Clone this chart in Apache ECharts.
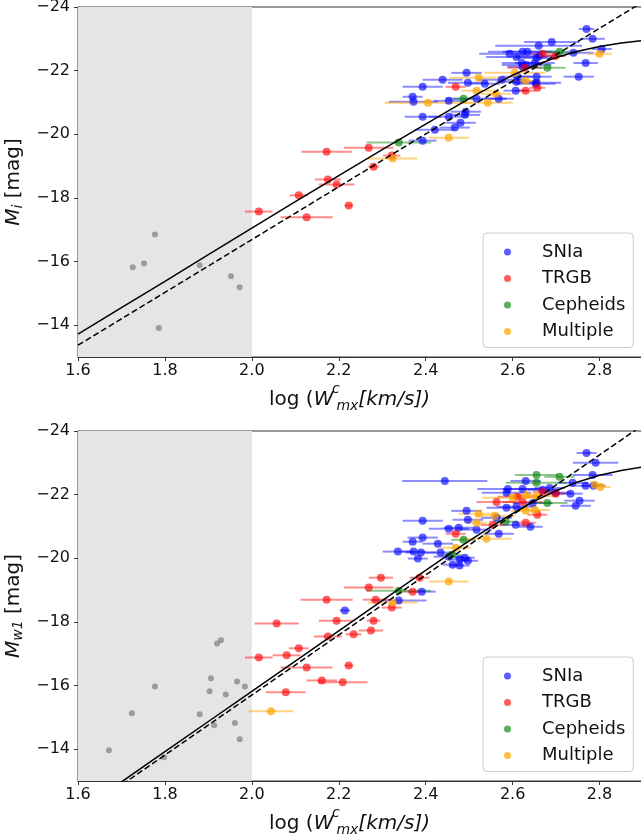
<!DOCTYPE html>
<html><head><meta charset="utf-8">
<script src="https://cdn.jsdelivr.net/npm/echarts@6/dist/echarts.min.js"></script>
<style>html,body{margin:0;padding:0;background:#fff}#c{width:641px;height:837px}</style>
</head><body><div id="c"></div><script>
// ---- axis / layout values ----
const xTicks = [1.6, 1.8, 2.0, 2.2, 2.4, 2.6, 2.8];
const yTicks = [-24, -22, -20, -18, -16, -14];
const shadeRange = [1.6, 2.0];
const legendNames = ['SNIa', 'TRGB', 'Cepheids', 'Multiple'];

// ---- TOP panel (M_i) : [logW, M, xerr] ----
const topSNIa = [
 [2.770,-23.31,0.018],[2.784,-23.00,0.028],[2.690,-22.90,0.064],[2.660,-22.78,0.10],[2.805,-22.68,0.023],
 [2.593,-22.53,0.07],[2.623,-22.59,0.08],[2.634,-22.59,0.057],[2.662,-22.46,0.057],[2.740,-22.56,0.046],
 [2.609,-22.43,0.07],[2.655,-22.40,0.046],[2.768,-22.24,0.028],[2.621,-22.24,0.046],[2.632,-22.18,0.057],
 [2.651,-22.24,0.046],[2.623,-22.12,0.035],[2.752,-21.81,0.035],[2.494,-21.93,0.035],[2.439,-21.71,0.046],
 [2.575,-21.71,0.057],[2.609,-21.65,0.046],[2.655,-21.62,0.057],[2.536,-21.59,0.035],[2.497,-21.62,0.046],
 [2.393,-21.49,0.046],[2.607,-21.37,0.028],[2.653,-21.59,0.046],[2.655,-21.81,0.035],[2.611,-21.81,0.035],
 [2.370,-21.18,0.023],[2.372,-21.02,0.057],[2.453,-21.05,0.035],[2.517,-21.12,0.07],[2.568,-21.12,0.035],
 [2.393,-20.55,0.041],[2.453,-20.55,0.046],[2.490,-20.61,0.035],[2.492,-20.71,0.035],[2.480,-20.36,0.035],
 [2.467,-20.21,0.035],[2.421,-20.14,0.046],[2.393,-19.80,0.032]
];
const topTRGB = [
 [2.669,-22.53,0.028],[2.699,-22.46,0.023],[2.628,-22.09,0.04],[2.469,-21.49,0.023],[2.657,-21.46,0.018],
 [2.630,-21.37,0.023],[2.172,-19.45,0.058],[2.269,-19.58,0.057],[2.322,-19.33,0.02],[2.280,-18.98,0.012],
 [2.175,-18.58,0.03],[2.195,-18.42,0.041],[2.108,-18.08,0.021],[2.016,-17.57,0.032],[2.223,-17.76,0.01],
 [2.126,-17.39,0.06]
];
const topCepheids = [
 [2.708,-22.59,0.046],[2.680,-22.09,0.042],[2.487,-21.12,0.023],[2.338,-19.74,0.074]
];
const topMultiple = [
 [2.800,-22.53,0.028],[2.605,-21.93,0.07],[2.522,-21.78,0.067],[2.630,-21.68,0.035],[2.517,-21.37,0.035],
 [2.561,-21.27,0.035],[2.405,-20.99,0.10],[2.543,-20.99,0.057],[2.453,-19.89,0.046],[2.324,-19.24,0.057]
];
const topExcluded = [
 [1.726,-15.82],[1.752,-15.94],[1.777,-16.85],[1.880,-15.88],[1.952,-15.54],[1.972,-15.19],[1.786,-13.91]
];
const topFitSolid = [
 [1.6,-13.72],[1.7,-14.55],[1.8,-15.38],[1.9,-16.22],[2.0,-17.05],[2.1,-17.88],[2.2,-18.70],[2.3,-19.52],
 [2.4,-20.32],[2.45,-20.72],[2.5,-21.12],[2.55,-21.50],[2.6,-21.86],[2.65,-22.16],[2.7,-22.41],
 [2.75,-22.61],[2.8,-22.76],[2.85,-22.87],[2.9,-22.95]
];
const topFitDashed = [[1.6,-13.37],[2.9,-24.16]];

// ---- BOTTOM panel (M_w1) ----
const botSNIa = [
 [2.770,-23.31,0.023],[2.791,-23.00,0.052],[2.444,-22.43,0.098],[2.630,-22.43,0.035],[2.738,-22.37,0.035],
 [2.784,-22.62,0.046],[2.786,-22.28,0.028],[2.768,-22.28,0.035],[2.589,-22.18,0.07],[2.623,-22.18,0.046],
 [2.586,-22.06,0.057],[2.669,-22.15,0.035],[2.685,-22.21,0.035],[2.733,-22.03,0.028],[2.699,-22.06,0.035],
 [2.754,-21.81,0.035],[2.745,-21.65,0.035],[2.646,-21.74,0.046],[2.609,-21.62,0.046],[2.586,-21.59,0.046],
 [2.494,-21.49,0.035],[2.393,-21.18,0.046],[2.497,-21.21,0.035],[2.476,-20.96,0.035],[2.453,-20.93,0.046],
 [2.517,-20.90,0.035],[2.563,-21.27,0.035],[2.607,-21.05,0.035],[2.641,-20.99,0.028],[2.568,-20.77,0.035],
 [2.393,-20.65,0.035],[2.370,-20.52,0.023],[2.428,-20.46,0.035],[2.336,-20.21,0.035],[2.372,-20.21,0.028],
 [2.389,-20.18,0.035],[2.434,-20.18,0.035],[2.382,-19.99,0.023],[2.453,-20.05,0.035],[2.478,-19.96,0.023],
 [2.490,-20.02,0.023],[2.497,-19.92,0.023],[2.462,-19.80,0.023],[2.478,-19.77,0.023],[2.391,-18.95,0.032],
 [2.338,-18.67,0.064],[2.214,-18.36,0.012]
];
const botTRGB = [
 [2.669,-22.09,0.023],[2.699,-22.03,0.023],[2.611,-21.93,0.046],[2.623,-21.77,0.046],[2.563,-21.77,0.046],
 [2.657,-21.37,0.023],[2.554,-21.05,0.028],[2.630,-21.12,0.023],[2.469,-20.77,0.023],[2.297,-19.39,0.028],
 [2.269,-19.08,0.057],[2.172,-18.70,0.06],[2.285,-18.70,0.03],[2.322,-18.45,0.023],[2.386,-19.39,0.023],
 [2.370,-18.95,0.023],[2.195,-18.04,0.041],[2.280,-18.04,0.016],[2.057,-17.95,0.051],[2.274,-17.73,0.028],
 [2.234,-17.61,0.018],[2.175,-17.54,0.032],[2.108,-17.17,0.023],[2.080,-16.95,0.032],[2.016,-16.88,0.032],
 [2.223,-16.63,0.01],[2.126,-16.57,0.06],[2.078,-15.79,0.046],[2.161,-16.16,0.035],[2.209,-16.10,0.057]
];
const botCepheids = [
 [2.655,-22.62,0.05],[2.708,-22.56,0.035],[2.655,-22.37,0.07],[2.680,-21.74,0.046],[2.584,-21.15,0.028],
 [2.487,-20.58,0.028],[2.460,-20.11,0.023],[2.338,-18.98,0.074]
];
const botMultiple = [
 [2.802,-22.24,0.023],[2.789,-22.31,0.023],[2.600,-21.90,0.07],[2.632,-21.99,0.046],[2.655,-21.96,0.046],
 [2.630,-21.49,0.035],[2.651,-21.52,0.035],[2.522,-21.40,0.046],[2.559,-21.34,0.046],[2.517,-21.12,0.023],
 [2.540,-20.61,0.057],[2.469,-20.33,0.035],[2.453,-19.27,0.046],[2.324,-18.61,0.057],[2.044,-15.19,0.051]
];
const botExcluded = [
 [1.671,-13.97],[1.724,-15.13],[1.777,-15.97],[1.798,-13.75],[1.880,-15.10],[1.903,-15.82],[1.906,-16.23],
 [1.913,-14.75],[1.920,-17.32],[1.929,-17.42],[1.940,-15.72],[1.961,-14.82],[1.966,-16.13],[1.984,-15.97],
 [1.972,-14.31]
];
const botFitSolid = [
 [1.6,-12.02],[1.7,-12.97],[1.8,-13.92],[1.9,-14.87],[2.0,-15.82],[2.1,-16.77],[2.2,-17.72],[2.3,-18.67],
 [2.4,-19.62],[2.45,-20.09],[2.5,-20.55],[2.55,-20.99],[2.6,-21.40],[2.65,-21.80],[2.7,-22.12],
 [2.75,-22.40],[2.8,-22.61],[2.85,-22.76],[2.9,-22.87]
];
const botFitDashed = [[1.6,-11.93],[2.9,-24.19]];

// ---- styling ----
const FONT = 'DejaVu Sans';
const colors = {
  SNIa: ['rgba(0,0,255,0.8)', 'rgba(0,0,255,0.45)'],
  TRGB: ['rgba(255,0,0,0.8)', 'rgba(255,0,0,0.45)'],
  Cepheids: ['rgba(0,128,0,0.8)', 'rgba(0,128,0,0.45)'],
  Multiple: ['rgba(255,165,0,0.9)', 'rgba(255,165,0,0.5)']
};
const minus = v => (v < 0 ? '\u2212' : '') + Math.abs(v);

function errSeries(data, color, gi) {
  return {
    type: 'custom', xAxisIndex: gi, yAxisIndex: gi, data: data, z: 2, silent: true, clip: true,
    encode: { x: 0, y: 1 },
    renderItem: function (p, api) {
      const x = api.value(0), y = api.value(1), e = api.value(2);
      const a = api.coord([x - e, y]), b = api.coord([x + e, y]);
      return { type: 'line', shape: { x1: a[0], y1: a[1], x2: b[0], y2: b[1] },
               style: { stroke: color, lineWidth: 2 } };
    }
  };
}
function ptSeries(name, data, color, size, gi) {
  return { type: 'scatter', name: name, xAxisIndex: gi, yAxisIndex: gi,
           data: data.map(d => [d[0], d[1]]), symbolSize: size, itemStyle: { color: color },
           z: 3, silent: true };
}
function lineSeries(data, dashed, gi) {
  return { type: 'line', xAxisIndex: gi, yAxisIndex: gi, data: data, showSymbol: false, symbol: 'none',
           smooth: false, clip: true, z: 5, silent: true,
           lineStyle: { color: '#000', width: 1.5, type: dashed ? [6, 3] : 'solid' } };
}
function panelSeries(gi, sets, excl, solid, dashed) {
  const s = [];
  s.push({ type: 'line', xAxisIndex: gi, yAxisIndex: gi, data: [[shadeRange[0], -24]], symbol: 'none',
           showSymbol: false, z: 0, silent: true, lineStyle: { width: 0 },
           markArea: { silent: true, itemStyle: { color: '#e5e5e5' },
             data: [[{ xAxis: shadeRange[0] }, { xAxis: shadeRange[1] }]] } });
  s.push(ptSeries('excluded', excl, 'rgba(128,128,128,0.9)', 6, gi));
  legendNames.forEach((n, i) => {
    s.push(errSeries(sets[i], colors[n][1], gi));
    s.push(ptSeries(n, sets[i], colors[n][0], 8, gi));
  });
  s.push(lineSeries(solid, false, gi));
  s.push(lineSeries(dashed, true, gi));
  return s;
}

const axisCommon = {
  axisLine: { show: true, onZero: false, lineStyle: { color: '#333', width: 1 } },
  axisTick: { show: true, inside: false, length: 4, lineStyle: { color: '#333' } },
  splitLine: { show: false }
};
const TS = 20, SS = 14;
function xAx(gi) {
  return Object.assign({}, axisCommon, {
    type: 'value', gridIndex: gi, min: 1.6, max: 2.9, interval: 0.2,
    axisTick: Object.assign({}, axisCommon.axisTick, { customValues: xTicks }),
    axisLabel: { customValues: xTicks, formatter: v => v.toFixed(1), fontFamily: FONT, fontSize: 16,
                 color: '#111', margin: 6 },
    name: '{n|log (}{w|W}{c|c}{s|mx}{i|[km/s])}', nameLocation: 'middle', nameGap: 25,
    nameTextStyle: { fontFamily: FONT, fontSize: TS, color: '#111', padding: [0, 22, 0, 0],
      rich: {
        n: { fontFamily: FONT, fontSize: TS, color: '#111' },
        w: { fontFamily: FONT, fontSize: TS, fontStyle: 'italic', color: '#111' },
        c: { fontFamily: FONT, fontSize: SS, fontStyle: 'italic', color: '#111', padding: [0, 0, 22, 2], width: 1 },
        s: { fontFamily: FONT, fontSize: SS, fontStyle: 'italic', color: '#111', padding: [12, 0, 0, 0] },
        i: { fontFamily: FONT, fontSize: TS, fontStyle: 'italic', color: '#111' }
      } }
  });
}
function yAx(gi, sub) {
  return Object.assign({}, axisCommon, {
    type: 'value', gridIndex: gi, min: -24, max: -13, interval: 2, inverse: true,
    axisTick: Object.assign({}, axisCommon.axisTick, { customValues: yTicks }),
    axisLabel: { customValues: yTicks, formatter: minus, fontFamily: FONT, fontSize: 16, color: '#111', margin: 8 },
    name: '{m|M}{s|' + sub + '}{n| [mag]}', nameLocation: 'middle', nameGap: 48, nameRotate: 90,
    nameTextStyle: { fontFamily: FONT, fontSize: TS, color: '#111',
      rich: {
        m: { fontFamily: FONT, fontSize: TS, fontStyle: 'italic', color: '#111' },
        s: { fontFamily: FONT, fontSize: SS, fontStyle: 'italic', color: '#111', padding: [10, 0, 0, 0] },
        n: { fontFamily: FONT, fontSize: TS, color: '#111' }
      } }
  });
}
function legendAt(top) {
  return { data: legendNames, orient: 'vertical', left: 483, top: top, icon: 'circle',
           itemWidth: 7, itemHeight: 7, itemGap: 6.5, padding: [9, 8, 6, 21],
           borderColor: '#cccccc', borderWidth: 1, borderRadius: 4, backgroundColor: 'rgba(255,255,255,0.8)',
           textStyle: { fontFamily: FONT, fontSize: 18, color: '#111', lineHeight: 20, padding: [0, 0, 0, 26] } };
}

const gridCommon = { left: 78, width: 565, height: 350, show: true, borderColor: '#333', borderWidth: 1,
                     backgroundColor: 'transparent', containLabel: false, outerBoundsMode: 'none' };
const chart = echarts.init(document.getElementById('c'), null, { renderer: 'canvas' });
chart.setOption({
  animation: false,
  backgroundColor: '#fff',
  grid: [
    Object.assign({ top: 7 }, gridCommon),
    Object.assign({ top: 431 }, gridCommon)
  ],
  xAxis: [xAx(0), xAx(1)],
  yAxis: [yAx(0, 'i'), yAx(1, 'w1')],
  legend: [legendAt(233), legendAt(657)],
  series: [].concat(
    panelSeries(0, [topSNIa, topTRGB, topCepheids, topMultiple], topExcluded, topFitSolid, topFitDashed),
    panelSeries(1, [botSNIa, botTRGB, botCepheids, botMultiple], botExcluded, botFitSolid, botFitDashed)
  )
});
</script></body></html>
